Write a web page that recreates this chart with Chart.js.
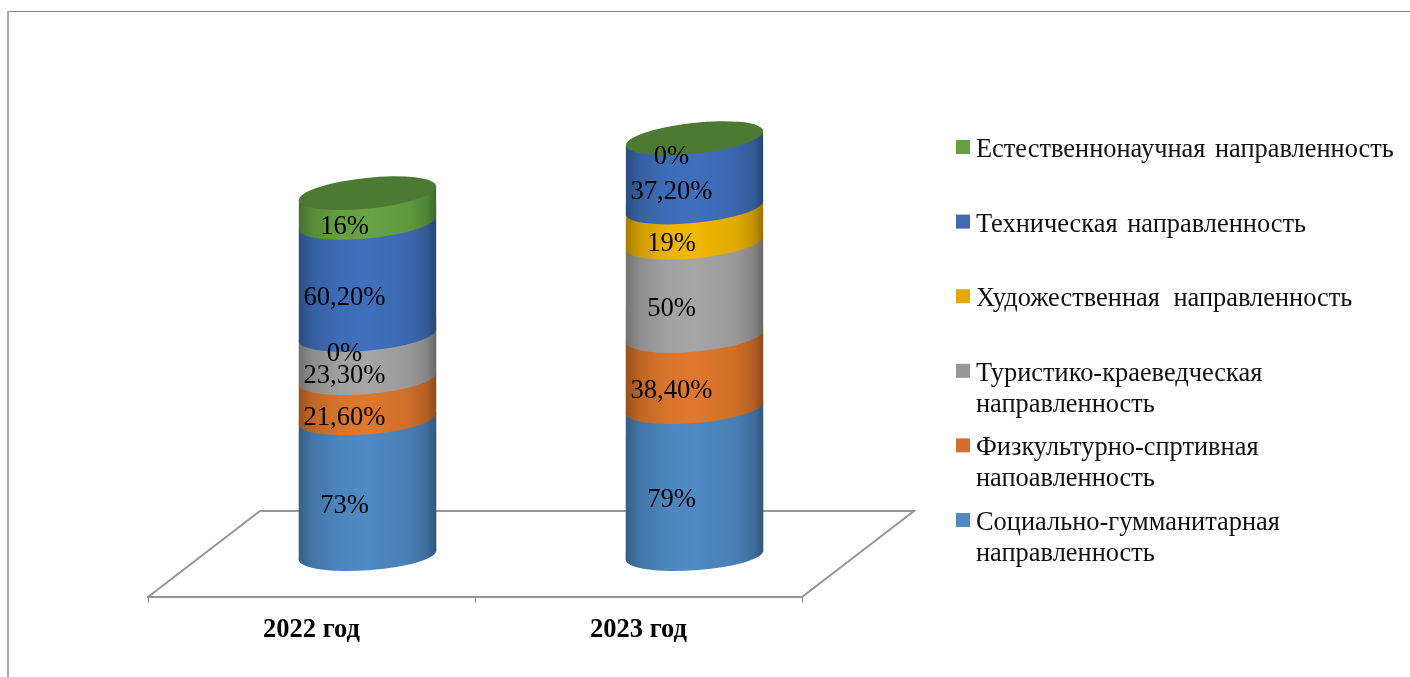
<!DOCTYPE html>
<html>
<head>
<meta charset="utf-8">
<style>
  html, body { margin: 0; padding: 0; background: #fff; overflow: hidden; }
  canvas { display: block; }
</style>
<script src="https://cdn.jsdelivr.net/npm/chart.js@4"></script>
</head>
<body>
<canvas id="chart" width="1410" height="677"></canvas>
<script>
var categories = ['2022 год', '2023 год'];

// series go bottom to top of the stack
var social = [73, 79];
var sport = [21.6, 38.4];
var tourism = [23.3, 50];
var art = [0, 19];
var tech = [60.2, 37.2];
var natural = [16, 0];

var seriesNames = [
  ['Социально-гумманитарная', 'направленность'],
  ['Физкультурно-спртивная', 'напоавленность'],
  ['Туристико-краеведческая', 'направленность'],
  ['Художественная направленность'],
  ['Техническая направленность'],
  ['Естественнонаучная направленность']
];
var seriesValues = [social, sport, tourism, art, tech, natural];
var barColors = ['#4f8ac4', '#e0782c', '#a6a6a6', '#f2b800', '#4070bd', '#67a543'];
var legendColors = ['#5089c0', '#d4702b', '#979797', '#e5a800', '#3f69b2', '#659f41'];
var legendWordGaps = ['0px', '0px', '0px', '7px', '3px', '3px'];

var FONT = '"Liberation Serif", "Times New Roman", serif';
var FLOOR_DX = 112, FLOOR_DY = 86;      // depth of the 3d floor
var BAR_DX = 56, BAR_DY = -42;          // bars stand in the middle of the floor
var RY = 15.4;

// the ellipses lean a little more the higher they are
function tiltAt(y) {
  return -(4 + 2.2 * (555 - y) / 417) * Math.PI / 180;
}

function shade(hex, k) {
  var n = parseInt(hex.slice(1), 16);
  var r = Math.min(255, Math.round((n >> 16) * k));
  var g = Math.min(255, Math.round(((n >> 8) & 255) * k));
  var b = Math.min(255, Math.round((n & 255) * k));
  return 'rgb(' + r + ',' + g + ',' + b + ')';
}

function formatValue(v) {
  var s = v % 1 === 0 ? String(v) : v.toFixed(2).replace('.', ',');
  return s + '%';
}

// where the side of the cylinder touches the tilted ellipse
function edgeOffset(rx, tilt) {
  var sin = Math.sin(tilt), cos = Math.cos(tilt);
  var halfW = Math.sqrt(rx * rx * cos * cos + RY * RY * sin * sin);
  return { x: halfW, y: (rx * rx - RY * RY) * sin * cos / halfW };
}

function drawSegment(ctx, cx, rx, top, bottom, color) {
  var tiltT = tiltAt(top), tiltB = tiltAt(bottom);
  var et = edgeOffset(rx, tiltT), eb = edgeOffset(rx, tiltB);
  var g = ctx.createLinearGradient(cx - eb.x, 0, cx + eb.x, 0);
  g.addColorStop(0, shade(color, 0.68));
  g.addColorStop(0.1, shade(color, 0.85));
  g.addColorStop(0.3, shade(color, 0.97));
  g.addColorStop(0.5, shade(color, 1));
  g.addColorStop(0.8, shade(color, 0.92));
  g.addColorStop(0.93, shade(color, 0.8));
  g.addColorStop(1, shade(color, 0.62));
  ctx.fillStyle = g;
  ctx.beginPath();
  ctx.moveTo(cx - et.x, top - et.y);
  ctx.lineTo(cx + et.x, top + et.y);
  ctx.lineTo(cx + eb.x, bottom + eb.y);
  ctx.lineTo(cx - eb.x, bottom - eb.y);
  ctx.closePath();
  ctx.fill();
  ctx.beginPath();
  ctx.ellipse(cx, bottom, rx, RY, tiltB, 0, Math.PI * 2);
  ctx.fill();
}

function drawFloor(ctx, area) {
  var y = area.bottom;
  ctx.strokeStyle = '#969696';
  ctx.lineWidth = 2;
  ctx.beginPath();
  ctx.moveTo(area.left, y);
  ctx.lineTo(area.left + FLOOR_DX, y - FLOOR_DY);
  ctx.lineTo(area.right + FLOOR_DX, y - FLOOR_DY);
  ctx.lineTo(area.right, y);
  ctx.stroke();
}

function drawFrame(ctx) {
  ctx.fillStyle = '#888';
  ctx.fillRect(8, 11, 1402, 1);
  ctx.fillStyle = '#aaa';
  ctx.fillRect(7, 11, 2, 666);
}

function drawLegend(ctx) {
  var x = 976, y = 149, step = 74.6, lineH = 31;
  ctx.textAlign = 'left';
  ctx.textBaseline = 'middle';
  ctx.font = '26.4px ' + FONT;
  for (var i = seriesNames.length - 1; i >= 0; i--) {
    ctx.fillStyle = legendColors[i];
    ctx.fillRect(956, y - 9, 14, 14);
    ctx.fillStyle = '#111';
    ctx.wordSpacing = legendWordGaps[i];
    for (var j = 0; j < seriesNames[i].length; j++) {
      ctx.fillText(seriesNames[i][j], x, y + 1 + j * lineH);
    }
    ctx.wordSpacing = '0px';
    y += step;
  }
}

var cylinders = {
  id: 'cylinders',
  beforeDatasetsDraw: function(chart) {
    var ctx = chart.ctx;
    ctx.save();
    drawFrame(ctx);
    drawFloor(ctx, chart.chartArea);

    categories.forEach(function(cat, c) {
      var topY = null, cx = 0, rx = 0;
      seriesValues.forEach(function(vals, s) {
        var bar = chart.getDatasetMeta(s).data[c];
        cx = bar.x + BAR_DX;
        rx = bar.width / 2;
        topY = bar.y + BAR_DY;
        if (vals[c] > 0) {
          drawSegment(ctx, cx, rx, bar.y + BAR_DY, bar.base + BAR_DY, barColors[s]);
        }
      });
      // lid takes the colour of the last series, a bit darker
      ctx.fillStyle = shade(barColors[barColors.length - 1], 0.74);
      ctx.beginPath();
      ctx.ellipse(cx, topY, rx, RY, tiltAt(topY), 0, Math.PI * 2);
      ctx.fill();
    });

    // value labels sit left of the bar centre like in the original
    ctx.fillStyle = '#000';
    ctx.font = '26.6px ' + FONT;
    ctx.textAlign = 'center';
    ctx.textBaseline = 'middle';
    seriesValues.forEach(function(vals, s) {
      categories.forEach(function(cat, c) {
        var bar = chart.getDatasetMeta(s).data[c];
        ctx.fillText(formatValue(vals[c]), bar.x + BAR_DX - 23, (bar.y + bar.base) / 2 + BAR_DY + 19);
      });
    });

    drawLegend(ctx);
    ctx.restore();
    return false;
  }
};

var datasets = seriesValues.map(function(vals, i) {
  return {
    label: seriesNames[i].join(' '),
    data: vals,
    backgroundColor: barColors[i],
    barPercentage: 1,
    categoryPercentage: 0.422
  };
});

new Chart(document.getElementById('chart').getContext('2d'), {
  type: 'bar',
  data: { labels: categories, datasets: datasets },
  plugins: [cylinders],
  options: {
    responsive: false,
    animation: false,
    events: [],
    layout: { padding: { left: 148, right: 608, top: 131, bottom: 0 } },
    plugins: { legend: { display: false }, tooltip: { enabled: false } },
    scales: {
      x: {
        stacked: true,
        afterFit: function(scale) { scale.height = 80; },
        border: { color: '#969696', width: 2 },
        grid: { drawOnChartArea: false, color: '#969696', tickLength: 6 },
        ticks: { color: '#000', padding: 11, maxRotation: 0, font: { family: FONT, size: 26.5, weight: 'bold' } }
      },
      y: { stacked: true, display: false, min: 0, max: 250 }
    }
  }
});
</script>
</body>
</html>
